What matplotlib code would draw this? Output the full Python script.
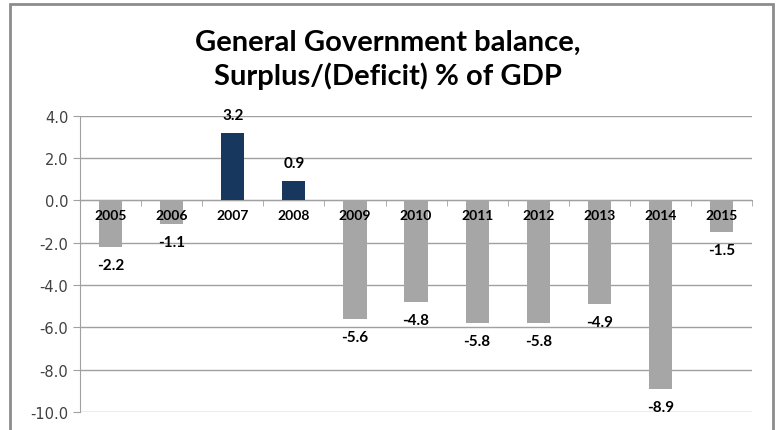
import matplotlib
matplotlib.use('Agg')
from matplotlib import pyplot as plt
from matplotlib.patches import Rectangle
from matplotlib.ticker import MultipleLocator, FixedLocator

years = ['2005', '2006', '2007', '2008', '2009', '2010', '2011', '2012', '2013', '2014', '2015']
balance = [-2.2, -1.1, 3.2, 0.9, -5.6, -4.8, -5.8, -5.8, -4.9, -8.9, -1.5]

navy = '#17375E'
gray = '#A6A6A6'
grid = '#A0A0A0'

fig = plt.figure(figsize=(7.77, 4.31), dpi=100)
ax = fig.add_axes([0.103, 0.042, 0.865, 0.687])

x = list(range(len(years)))
colors = [navy if v > 0 else gray for v in balance]
ax.bar(x, balance, width=0.38, color=colors, zorder=3)

for xi, v in zip(x, balance):
    off = 8 if v > 0 else -8
    ax.annotate('{:.1f}'.format(v), (xi, v), xytext=(0, off), textcoords='offset points',
                ha='center', va='bottom' if v > 0 else 'top',
                fontsize=11, fontweight='bold', family='Lato', zorder=5)

# year labels sit just under the zero line, drawn over the bars
for xi, yr in zip(x, years):
    ax.annotate(yr, (xi, 0), xytext=(0, -6), textcoords='offset points',
                ha='center', va='top', fontsize=10, fontweight='bold',
                family='Lato', zorder=5)

ax.set_ylim(-10, 4)
ax.set_xlim(-0.5, len(years) - 0.5)
ax.yaxis.set_major_locator(MultipleLocator(2))
ax.yaxis.set_major_formatter(matplotlib.ticker.FormatStrFormatter('%.1f'))
ax.grid(axis='y', color=grid, linewidth=1, zorder=0)
ax.set_axisbelow(True)

ax.spines['bottom'].set_position(('data', 0))
ax.spines['bottom'].set_color(grid)
ax.spines['left'].set_color(grid)
ax.spines['top'].set_visible(False)
ax.spines['right'].set_visible(False)

ax.set_xticks(x)
ax.set_xticklabels([])
ax.xaxis.set_minor_locator(FixedLocator([i + 0.5 for i in range(-1, len(years))]))
ax.tick_params(axis='x', which='major', length=0)
ax.tick_params(axis='x', which='minor', length=4, color=grid)
ax.tick_params(axis='y', length=5, color=grid, labelsize=10.5, labelcolor='#404040')

fig.text(0.4994, 0.861, 'General Government balance,\nSurplus/(Deficit) % of GDP',
         ha='center', va='center', fontsize=21, fontweight='bold', family='Lato',
         linespacing=1.25)

# outer chart border
fig.patches.append(Rectangle((10 / 777, -0.05), 763 / 777, 1 - 5 / 431 + 0.05,
                             transform=fig.transFigure, fill=False,
                             edgecolor='#8C8C8C', linewidth=2))

fig.savefig('out.png', dpi=100)
